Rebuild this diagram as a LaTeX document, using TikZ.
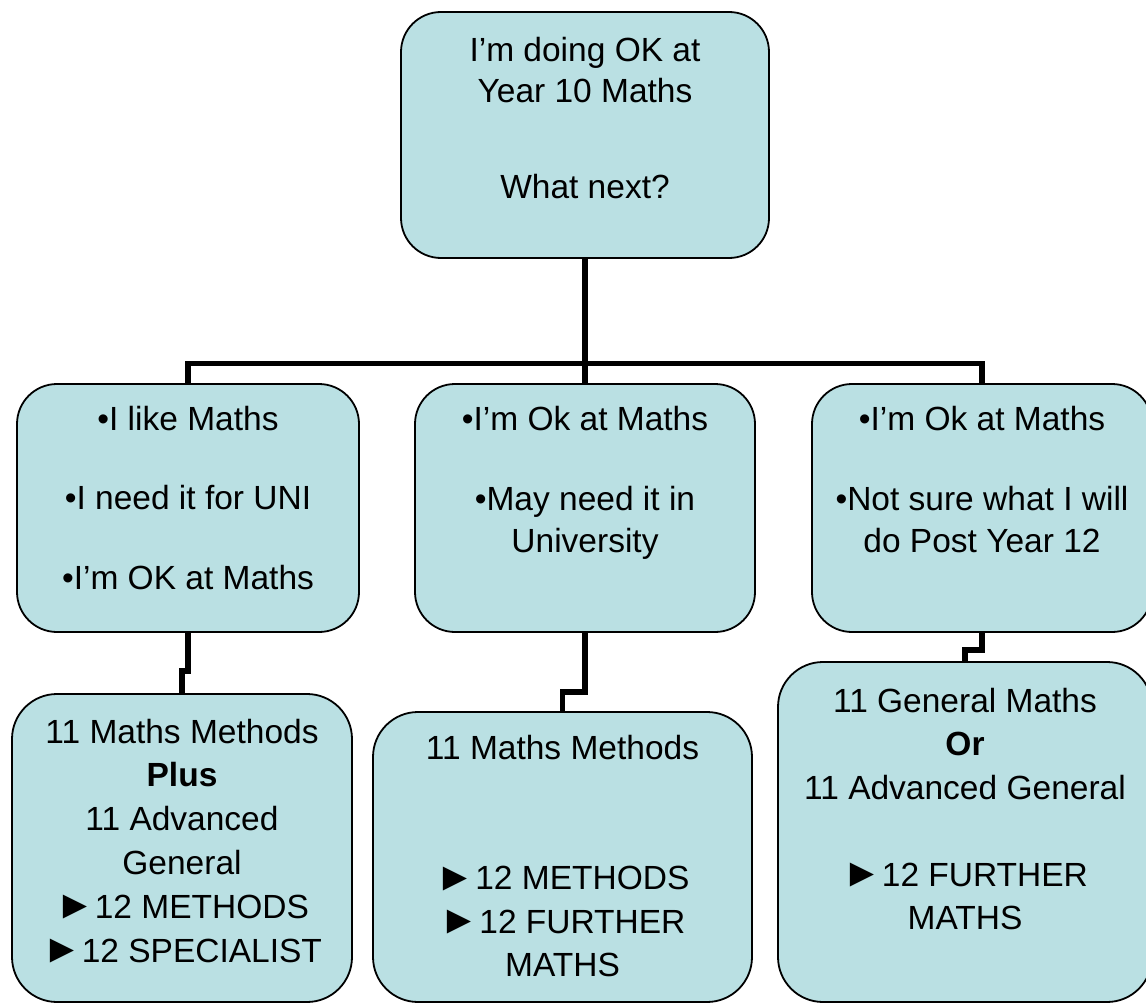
\documentclass[tikz,border=0pt]{standalone}
\usepackage{fontspec}
\setmainfont{Liberation Sans}
\definecolor{boxfill}{RGB}{186,224,227}
\newcommand{\ptri}{\raisebox{-0.5pt}{\scalebox{1.2}{►}}}
\begin{document}
\begin{tikzpicture}[x=1pt,y=-1pt,
  box/.style={draw=black, line width=1.8pt, fill=boxfill, rounded corners=40pt, inner sep=0pt},
  txt/.style={anchor=north, inner sep=0pt, align=center, text=black},
  conn/.style={draw=black, line width=5.5pt},
]
\useasboundingbox (0,0) rectangle (1146,1006);
% boxes
\node[box, minimum width=368pt, minimum height=246pt] (top) at (585,135) {};
\node[box, minimum width=342pt, minimum height=248pt] (ml) at (188,508) {};
\node[box, minimum width=340pt, minimum height=248pt] (mm) at (585,508) {};
\node[box, minimum width=340pt, minimum height=248pt] (mr) at (982,508) {};
\node[box, minimum width=340pt, minimum height=308pt, rounded corners=45pt] (bl) at (182,848) {};
\node[box, minimum width=379pt, minimum height=290pt, rounded corners=45pt] (bm) at (562.5,857) {};
\node[box, minimum width=374pt, minimum height=340pt, rounded corners=45pt] (br) at (965,832) {};
% connectors
\coordinate (hub) at (585,363.5);
\draw[conn] (top.south) -- (hub);
\draw[conn] (ml.north) |- (hub) -| (mr.north);
\draw[conn] (hub) -- (mm.north);
\draw[conn] (ml.south) -- ++(0,38) -| (bl.north);
\draw[conn] (mm.south) -- ++(0,59) -| (bm.north);
\draw[conn] (mr.south) -- ++(0,17) -| (br.north);
% texts
\node[txt, font=\fontsize{33.5}{41}\selectfont] (top-t) at (585,32.3)
  {\strut I’m doing OK at\\Year 10 Maths\\[55pt]What next?};
\node[txt, font=\fontsize{33.5}{43.5}\selectfont] (ml-t) at (188,399.5)
  {\strut •I like Maths\\[36pt]•I need it for UNI\\[36pt]•I’m OK at Maths};
\node[txt, font=\fontsize{33.5}{42}\selectfont] (mm-t) at (585,400.6)
  {\strut •I’m Ok at Maths\\[38pt]•May need it in\\University};
\node[txt, font=\fontsize{33.5}{42}\selectfont] (mr-t) at (982,400.6)
  {\strut •I’m Ok at Maths\\[38pt]•Not sure what I will\\do Post Year 12};
\node[txt, font=\fontsize{33.5}{43.8}\selectfont] (bl-t) at (182,712.3)
  {\strut 11 Maths Methods\\\textbf{Plus}\\11 Advanced\\General\\\ptri12 METHODS\\\ptri12 SPECIALIST};
\node[txt, font=\fontsize{33.5}{43.5}\selectfont] (bm-t) at (562.5,728.5)
  {\strut 11 Maths Methods\\[87pt]\ptri12 METHODS\\\ptri12 FURTHER\\MATHS};
\node[txt, font=\fontsize{33.5}{43.5}\selectfont] (br-t) at (965,681.5)
  {\strut 11 General Maths\\\textbf{Or}\\11 Advanced General\\[43.5pt]\ptri12 FURTHER\\MATHS};
\end{tikzpicture}
\end{document}
